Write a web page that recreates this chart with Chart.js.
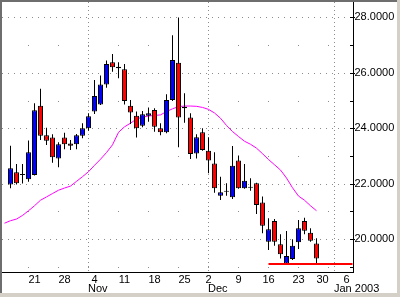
<!DOCTYPE html>
<html>
<head>
<meta charset="utf-8">
<script src="https://cdn.jsdelivr.net/npm/chart.js@4.4.1/dist/chart.umd.min.js"></script>
<style>
  html, body { margin: 0; padding: 0; background: #d4d0c8; }
  #frame {
    position: absolute; left: 0; top: 0; width: 397px; height: 293px;
    box-sizing: border-box; background: #fff;
    border-top: 2px solid #6e6e6e; border-left: 2px solid #6e6e6e;
  }
  canvas { display: block; }
</style>
</head>
<body>
<div id="frame"><canvas id="chart" width="395" height="291"></canvas></div>
<script>
// trading days (2002-10-14 .. 2003-01-07)
const days = [
    '10-14', '10-15', '10-16', '10-17', '10-18', '10-21', '10-22', '10-23', '10-24', '10-25',
    '10-28', '10-29', '10-30', '10-31', '11-01', '11-04', '11-05', '11-06', '11-07', '11-08',
    '11-11', '11-12', '11-13', '11-14', '11-15', '11-18', '11-19', '11-20', '11-21', '11-22',
    '11-25', '11-26', '11-27', '11-29', '12-02', '12-03', '12-04', '12-05', '12-06', '12-09',
    '12-10', '12-11', '12-12', '12-13', '12-16', '12-17', '12-18', '12-19', '12-20', '12-23',
    '12-24', '12-26', '12-27', '12-30', '12-31', '01-02', '01-03', '01-06', '01-07'
];

// OHLC from 10-15 to 12-27 (10-14 has no candle)
const opens = [null,
    21.97, 22.41, 22.31, 22.16, 22.31, 24.81, 23.75, 23.66, 22.91, 23.66,
    23.45, 23.42, 23.73, 24.00, 24.60, 24.86, 25.58, 26.38, 26.22, 26.13,
    24.81, 24.45, 24.09, 24.45, 24.66, 24.00, 23.85, 25.02, 26.36, 24.77,
    24.39, 23.09, 23.85, 23.19, 22.73, 21.56, 21.71, 21.51, 22.83, 21.83,
    21.85, 22.01, 21.32, 19.90, 20.65, 19.81, 19.12, 19.28, 19.88, 20.65,
    20.23, 19.84];
const highs = [null,
    23.37, 22.71, 22.71, 23.56, 24.90, 25.42, 24.02, 23.78, 23.49, 23.84,
    23.57, 23.79, 24.18, 24.54, 25.74, 25.90, 26.44, 26.68, 26.38, 26.32,
    25.02, 24.60, 24.62, 24.75, 24.72, 24.18, 25.23, 27.36, 28.00, 25.26,
    24.54, 23.78, 24.00, 23.67, 23.13, 22.25, 22.01, 23.36, 23.01, 22.71,
    22.19, 22.03, 21.53, 20.75, 20.72, 20.17, 20.29, 19.99, 20.69, 20.77,
    20.39, 20.03];
const lows = [null,
    21.83, 21.97, 22.00, 22.07, 22.29, 23.57, 23.39, 22.75, 22.59, 23.24,
    23.21, 23.24, 23.64, 23.91, 24.51, 24.84, 25.46, 26.04, 25.80, 24.86,
    24.15, 23.66, 24.03, 24.23, 23.87, 23.75, 23.82, 24.98, 23.31, 24.20,
    22.89, 22.91, 23.19, 22.37, 21.67, 21.41, 21.56, 21.44, 21.81, 21.81,
    21.74, 20.90, 20.21, 19.60, 19.76, 19.30, 19.10, 19.24, 19.64, 20.17,
    19.90, 19.09];
const closes = [null,
    22.55, 22.01, 22.31, 23.13, 24.65, 23.73, 23.55, 22.95, 23.42, 23.42,
    23.37, 23.75, 24.00, 24.43, 25.16, 25.58, 26.32, 26.20, 26.16, 24.98,
    24.57, 24.00, 24.50, 24.54, 24.05, 23.85, 25.02, 26.46, 24.39, 24.72,
    23.07, 23.67, 23.21, 22.83, 21.83, 21.69, 21.71, 22.64, 21.83, 22.10,
    21.85, 21.23, 20.48, 20.35, 19.90, 19.45, 19.39, 19.76, 20.39, 20.30,
    19.94, 19.30];

// moving average, 10-14 .. 12-27
const movingAvg = [20.57,
    20.66, 20.72, 20.85, 21.02, 21.20, 21.40, 21.52, 21.64, 21.76, 21.84,
    21.91, 22.08, 22.25, 22.43, 22.66, 22.88, 23.12, 23.40, 23.85, 24.05,
    24.18, 24.33, 24.40, 24.44, 24.46, 24.48, 24.60, 24.70, 24.78, 24.80,
    24.80, 24.79, 24.75, 24.68, 24.55, 24.36, 24.10, 23.88, 23.70, 23.53,
    23.42, 23.28, 23.08, 22.87, 22.68, 22.49, 22.20, 21.85, 21.55, 21.40,
    21.20, 21.02];

const supportLevel = 19.10;
const supportStart = '12-16';

const weekTicks = ['10-21', '10-28', '11-04', '11-11', '11-18', '11-25',
                   '12-02', '12-09', '12-16', '12-23', '12-30', '01-06'];
const monthStarts = ['11-01', '12-02', '01-02'];
const monthNames = ['Nov', 'Dec', 'Jan 2003'];
const priceTicks = [20, 22, 24, 26, 28];
const minorPriceTicks = [19, 21, 23, 25, 27];

const FONT = 'Arial, "Liberation Sans", sans-serif';

const bodies = [];
const wicks = [];
opens.forEach((o, i) => {
    if (o == null) return;
    bodies.push({ x: i, y: [o, closes[i]] });
    wicks.push({ x: i, y: [lows[i], highs[i]] });
});
const maPoints = movingAvg.map((v, i) => ({ x: i, y: v }));
const supportPoints = [
    { x: days.indexOf(supportStart), y: supportLevel },
    { x: days.length - 1, y: supportLevel }
];

const bodyColor = (ctx) => {
    const r = ctx.raw;
    if (!r) return '#000';
    if (r.y[1] > r.y[0]) return '#0000ff';
    if (r.y[1] < r.y[0]) return '#ff0000';
    return '#000';
};

const gridPlugin = {
    id: 'grid',
    beforeDatasetsDraw(chart) {
        const { ctx, chartArea: a, scales: { x, y } } = chart;
        ctx.save();
        ctx.strokeStyle = '#8c8c8c';
        ctx.lineWidth = 1;
        ctx.setLineDash([1, 5]);
        priceTicks.forEach(v => {
            const py = Math.round(y.getPixelForValue(v)) + 0.5;
            ctx.beginPath(); ctx.moveTo(a.left, py); ctx.lineTo(a.right, py); ctx.stroke();
        });
        ctx.setLineDash([1, 29]);
        ctx.lineDashOffset = -26;
        minorPriceTicks.forEach(v => {
            const py = Math.round(y.getPixelForValue(v)) + 0.5;
            ctx.beginPath(); ctx.moveTo(a.left, py); ctx.lineTo(a.right, py); ctx.stroke();
        });
        ctx.setLineDash([1, 3]);
        ctx.lineDashOffset = 0;
        monthStarts.forEach(d => {
            const px = Math.floor(x.getPixelForValue(days.indexOf(d))) + 0.5;
            ctx.beginPath(); ctx.moveTo(px, a.top); ctx.lineTo(px, a.bottom); ctx.stroke();
        });
        ctx.restore();
    },
    afterDraw(chart) {
        const { ctx, chartArea: a, scales: { x, y } } = chart;
        ctx.save();
        ctx.strokeStyle = '#000';
        ctx.lineWidth = 1;
        priceTicks.forEach(v => {
            const py = Math.round(y.getPixelForValue(v)) + 0.5;
            ctx.beginPath(); ctx.moveTo(a.right - 3, py); ctx.lineTo(a.right + 2, py); ctx.stroke();
        });
        minorPriceTicks.forEach(v => {
            const py = Math.round(y.getPixelForValue(v)) + 0.5;
            ctx.beginPath(); ctx.moveTo(a.right - 3, py); ctx.lineTo(a.right, py); ctx.stroke();
        });
        ctx.fillStyle = '#000';
        ctx.font = '11px ' + FONT;
        ctx.textAlign = 'left';
        ctx.textBaseline = 'alphabetic';
        monthStarts.forEach((d, k) => {
            const px = Math.floor(x.getPixelForValue(days.indexOf(d)));
            ctx.fillText(monthNames[k], px, 289.5);
        });
        ctx.restore();
    }
};

Chart.defaults.font.family = FONT;
Chart.defaults.font.size = 11;
Chart.defaults.color = '#000';

new Chart(document.getElementById('chart'), {
    type: 'bar',
    data: {
        datasets: [
            {
                type: 'line',
                data: supportPoints,
                borderColor: '#ff0000',
                borderWidth: 2,
                pointRadius: 0,
                order: 0
            },
            {
                data: bodies,
                backgroundColor: bodyColor,
                borderColor: '#000',
                borderWidth: 1,
                borderSkipped: false,
                barThickness: 5,
                minBarLength: 1,
                inflateAmount: 0,
                grouped: false,
                order: 1
            },
            {
                data: wicks,
                backgroundColor: '#000',
                borderWidth: 0,
                barThickness: 1,
                inflateAmount: 0,
                grouped: false,
                order: 2
            },
            {
                type: 'line',
                data: maPoints,
                borderColor: '#ff00ff',
                borderWidth: 1,
                pointRadius: 0,
                tension: 0,
                order: 3
            }
        ]
    },
    options: {
        responsive: false,
        animation: false,
        events: [],
        layout: { padding: 0 },
        plugins: { legend: { display: false }, tooltip: { enabled: false } },
        scales: {
            x: {
                type: 'linear',
                offset: false,
                min: -2.5 / 6,
                max: -2.5 / 6 + 58.5,
                grid: { display: false, drawTicks: false },
                border: { display: true, color: '#000', width: 1 },
                afterBuildTicks: (scale) => {
                    scale.ticks = weekTicks.map(d => ({ value: days.indexOf(d) }));
                },
                afterFit: (scale) => {
                    scale.height = 21;
                    scale.paddingLeft = 0;
                    scale.paddingRight = 0;
                },
                ticks: {
                    autoSkip: false,
                    maxRotation: 0,
                    padding: 1,
                    callback: (v) => String(parseInt(days[v].slice(3), 10))
                }
            },
            y: {
                position: 'right',
                min: 20 - 33 / 27.7,
                max: 20 + 237 / 27.7,
                grid: { display: false, drawTicks: false },
                border: { display: true, color: '#000', width: 1 },
                afterBuildTicks: (scale) => {
                    scale.ticks = priceTicks.map(v => ({ value: v }));
                },
                afterFit: (scale) => {
                    scale.width = 44;
                    scale.paddingTop = 0;
                    scale.paddingBottom = 0;
                },
                ticks: {
                    padding: 1.5,
                    callback: (v) => Number(v).toFixed(4)
                }
            }
        }
    },
    plugins: [gridPlugin]
});
</script>
</body>
</html>
